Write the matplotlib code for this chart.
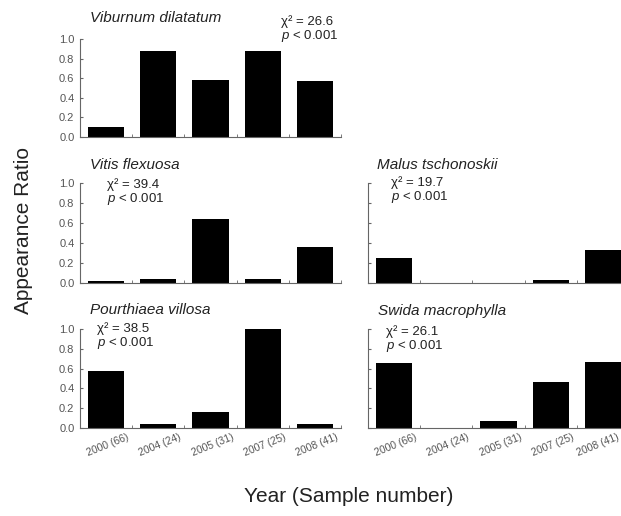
import matplotlib
matplotlib.use("Agg")
import matplotlib.pyplot as plt
import matplotlib.transforms as mtransforms
import numpy as np

plt.rcParams["font.family"] = ["Liberation Sans", "DejaVu Sans"]
plt.rcParams["mathtext.fontset"] = "custom"
plt.rcParams["mathtext.rm"] = "Liberation Sans"
plt.rcParams["mathtext.it"] = "Liberation Sans:italic"

years = ["2000 (66)", "2004 (24)", "2005 (31)", "2007 (25)", "2008 (41)"]

viburnum = [0.105, 0.88, 0.585, 0.88, 0.57]
vitis = [0.02, 0.045, 0.64, 0.045, 0.36]
malus = [0.25, 0.0, 0.0, 0.03, 0.33]
pourthiaea = [0.58, 0.045, 0.16, 1.0, 0.045]
swida = [0.66, 0.0, 0.07, 0.46, 0.67]

species = ["Viburnum dilatatum", "Vitis flexuosa", "Malus tschonoskii",
           "Pourthiaea villosa", "Swida macrophylla"]
chi2 = ["26.6", "39.4", "19.7", "38.5", "26.1"]
values = [viburnum, vitis, malus, pourthiaea, swida]

W, H = 621, 516
# panel boxes in pixels: left, top, width, height ; title pos ; stats pos
panels = [
    (80, 39, 261, 98, (90, 18), (281, 22)),
    (80, 183, 261, 100, (90, 165), (107, 185)),
    (368, 183, 261, 100, (377, 165), (391, 183)),
    (80, 329, 261, 99, (90, 310), (97, 329)),
    (368, 329, 261, 99, (378, 311), (386, 332)),
]

fig = plt.figure(figsize=(W / 100, H / 100), dpi=100)
grey = "#666666"
x = np.arange(len(years))

for i, (l, t, w, h, tpos, spos) in enumerate(panels):
    ax = fig.add_axes([l / W, 1 - (t + h) / H, w / W, h / H])
    ax.bar(x, values[i], width=0.69, color="black")
    ax.set_xlim(-0.5, 4.5)
    ax.set_ylim(0, 1.0)
    for s in ["top", "right"]:
        ax.spines[s].set_visible(False)
    for s in ["left", "bottom"]:
        ax.spines[s].set_color(grey)
        ax.spines[s].set_linewidth(0.8)
    ax.set_yticks(np.arange(0, 1.01, 0.2))
    ax.tick_params(axis="y", direction="in", length=2, color=grey,
                   labelsize=8, labelcolor="#555555", pad=4)
    if l > 300:
        ax.set_yticklabels([])
    else:
        ax.set_yticklabels([f"{v:.1f}" for v in np.arange(0, 1.01, 0.2)])
    ax.set_xticks(x + 0.5, minor=True)
    ax.set_xticks(x)
    ax.tick_params(axis="x", which="minor", direction="in", length=2, color=grey)
    ax.tick_params(axis="x", which="major", length=0, labelsize=7.5,
                   labelcolor="#555555", pad=9)
    if t > 300:
        labels = ax.set_xticklabels(years, rotation=22, ha="center",
                                    rotation_mode="anchor")
        if l > 300:
            # keep the last label inside the figure
            shift = mtransforms.ScaledTranslation(-7 / 100, 0, fig.dpi_scale_trans)
            labels[-1].set_transform(labels[-1].get_transform() + shift)
    else:
        ax.set_xticklabels([])

    fig.text(tpos[0] / W, 1 - tpos[1] / H, species[i], style="italic",
             fontsize=11, color="#222222", va="center", ha="left")
    fig.text(spos[0] / W, 1 - spos[1] / H, f"χ² = {chi2[i]}",
             fontsize=9.5, color="#222222", va="center", ha="left")
    fig.text(spos[0] / W, 1 - (spos[1] + 14) / H, "$p$ < 0.001",
             fontsize=9.5, color="#222222", va="center", ha="left")

fig.text(24 / W, 1 - 230 / H, "Appearance Ratio", rotation=90, fontsize=15,
         color="#222222", va="center", ha="center")
fig.text(349 / W, 1 - 496 / H, "Year (Sample number)", fontsize=15,
         color="#222222", va="center", ha="center")

fig.savefig("out.png", dpi=100)
